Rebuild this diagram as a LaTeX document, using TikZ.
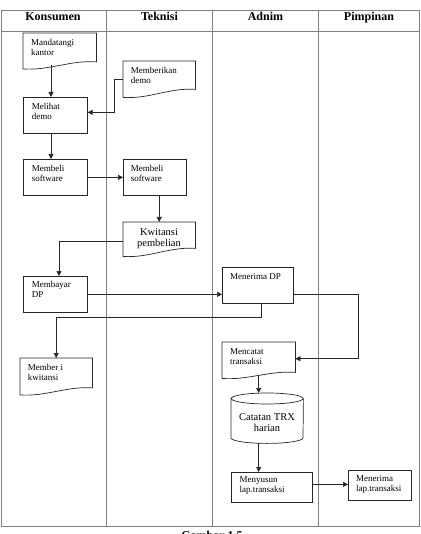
\documentclass[tikz,border=0pt]{standalone}
\usepackage{fontspec}
\setmainfont{Liberation Serif}
\usetikzlibrary{arrows.meta}
\tikzset{
  grid/.style={draw=black!50, line width=0.9pt},
  shp/.style={draw=black!85, line width=0.7pt},
  box/.style={shp, rectangle, inner sep=0pt, anchor=north west},
  docbox/.style={rectangle, draw=none, inner sep=0pt, anchor=north west},
  arr/.style={draw=black!85, line width=0.7pt, -{Triangle[length=5pt,width=5pt]}},
  txt/.style={font=\fontsize{9}{10}\selectfont, inner sep=0pt, anchor=north west, align=left},
  txtc/.style={font=\fontsize{10.5}{11}\selectfont, inner sep=0pt, anchor=north, align=center},
  hdr/.style={font=\fontsize{12}{14}\selectfont\bfseries, anchor=base, inner sep=0pt}
}
% document outline: #1 node name, #2 half width, #3 half drop
\newcommand\docout[3]{%
  \draw[shp] ([yshift=-#3pt]#1.south west) -- (#1.north west) -- (#1.north east) -- ([yshift=#3pt]#1.south east)
    .. controls ([xshift=0.3*#2pt,yshift=#3pt+2pt]#1.south) and ([xshift=-0.3*#2pt,yshift=-#3pt-2pt]#1.south) .. ([yshift=-#3pt]#1.south west);}
\begin{document}
\begin{tikzpicture}[x=1pt,y=-1pt]
\useasboundingbox (0,0) rectangle (420,534);
% table
\draw[grid] (1,10) rectangle (419,526);
\draw[grid] (1,31) -- (419,31);
\foreach \x in {106.5,212.5,318.5} \draw[grid] (\x,10) -- (\x,526);
\node[hdr] (h1) at (53,21) {Konsumen};
\node[hdr] (h2) at (159.5,21) {Teknisi};
\node[hdr] (h3) at (265.5,21) {Adnim};
\node[hdr] (h4) at (369,21) {Pimpinan};
\node[hdr] (cap) at (212,539) {Gambar 1.5};

% shapes
\node[docbox, minimum width=73pt, minimum height=32pt] (mandatangi) at (23,33) {};
\docout{mandatangi}{36.5}{3.5}
\node[txt] (t1) at (31,38) {\strut Mandatangi\\kantor};

\node[docbox, minimum width=72pt, minimum height=32pt] (memberikan) at (123,61) {};
\docout{memberikan}{36}{4}
\node[txt] (t2) at (130.7,66.5) {\strut Memberikan\\demo};

\node[box, minimum width=64pt, minimum height=36pt] (melihat) at (23,97) {};
\node[txt] (t3) at (31.7,102.3) {\strut Melihat\\demo};

\node[box, minimum width=64pt, minimum height=36pt] (membeliK) at (23,159) {};
\node[txt] (t4) at (31.7,164.7) {\strut Membeli\\software};

\node[box, minimum width=63pt, minimum height=36pt] (membeliT) at (123,159) {};
\node[txt] (t5) at (130.7,164.7) {\strut Membeli\\software};

\node[docbox, minimum width=72pt, minimum height=30pt] (kwitansi) at (123,222) {};
\docout{kwitansi}{36}{4}
\node[txtc] (t6) at (159,227.3) {\strut Kwitansi\\pembelian};

\node[box, minimum width=64pt, minimum height=36pt] (membayar) at (23,276) {};
\node[txt] (t7) at (31.7,280.7) {\strut Membayar\\DP};

\node[box, minimum width=71pt, minimum height=36pt] (menerimaDP) at (222,267) {};
\node[txt] (t8) at (230,272) {\strut Menerima DP};

\node[docbox, minimum width=72pt, minimum height=33pt] (memberi) at (20,358) {};
\docout{memberi}{36}{3.5}
\node[txt] (t9) at (27.7,363) {\strut Member i\\kwitansi};

\node[docbox, minimum width=73pt, minimum height=33pt] (mencatat) at (222,342) {};
\docout{mencatat}{36.5}{3}
\node[txt] (t10) at (230,347) {\strut Mencatat\\transaksi};

% cylinder
\node[docbox, minimum width=72pt, minimum height=50pt] (cyl) at (231,393) {};
\draw[shp] ([yshift=-5.5pt]cyl.north) ellipse [x radius=36pt, y radius=5.5pt];
\draw[shp] ([yshift=-5.5pt]cyl.north west) -- ([yshift=5.5pt]cyl.south west)
  arc[start angle=180, end angle=360, x radius=36pt, y radius=5.5pt] -- ([yshift=-5.5pt]cyl.north east);
\node[txtc] (t11) at (267,413) {\strut Catatan TRX\\harian};

\node[box, minimum width=81pt, minimum height=30pt] (menyusun) at (231,472) {};
\node[txt] (t12) at (239.3,475.7) {\strut Menyusun\\lap.transaksi};

\node[box, minimum width=63pt, minimum height=30pt] (menlap) at (348,470) {};
\node[txt] (t13) at (356,474) {\strut Menerima\\lap.transaksi};

% connectors
\draw[arr] ([xshift=28pt]mandatangi.south west) -- ([xshift=28pt]melihat.north west);
\draw[arr] ([yshift=-2pt]memberikan.west) -- ++(-9,0) |- ([yshift=3pt]melihat.east);
\draw[arr] ([xshift=28pt]melihat.south west) -- ([xshift=28pt]membeliK.north west);
\draw[arr] (membeliK.east) -- (membeliK.east -| membeliT.west);
\draw[arr] (kwitansi.north |- membeliT.south) -- (kwitansi.north);
\draw[arr] ([yshift=-4pt]kwitansi.west) -| ([xshift=36pt]membayar.north west);
\draw[arr] (membayar.east) -- (membayar.east -| menerimaDP.west);
\draw[arr] ([xshift=39pt]menerimaDP.south west) -- ++(0,14) -| (memberi.north);
\draw[arr] ([yshift=-9pt]menerimaDP.east) -- ++(65,0) |- (mencatat.east);
\draw[arr] (mencatat.south) -- (mencatat.south |- cyl.north);
\draw[arr] (mencatat.south |- cyl.south) -- (mencatat.south |- menyusun.north);
\draw[arr] ([yshift=3pt]menyusun.east) -- ([yshift=3pt]menyusun.east -| menlap.west);
\end{tikzpicture}
\end{document}
